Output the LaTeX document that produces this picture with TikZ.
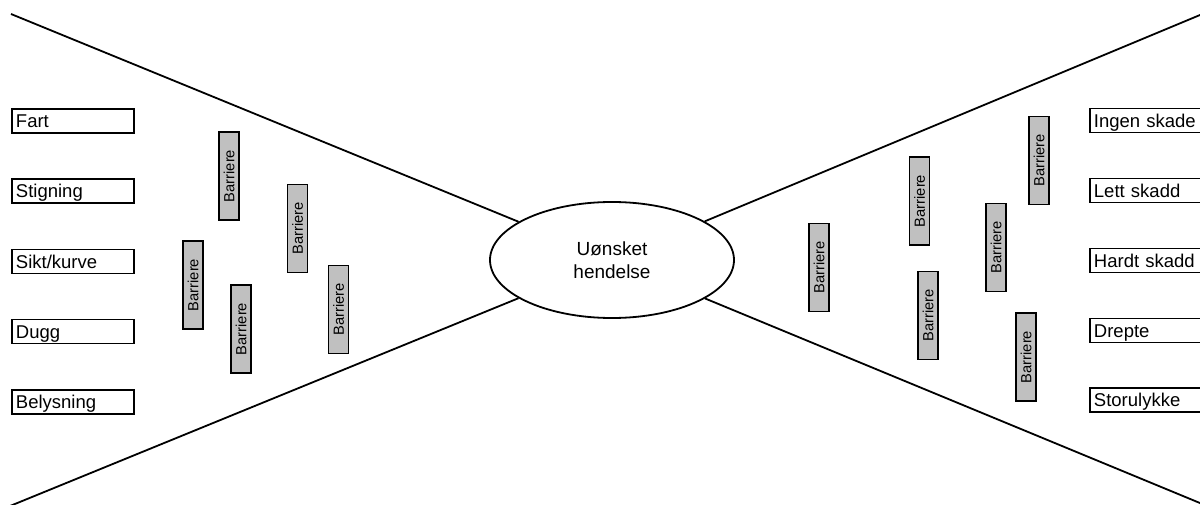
\documentclass[tikz,border=0pt]{standalone}
\usepackage{fontspec}
\setmainfont{Liberation Sans}
\usetikzlibrary{shapes.geometric}
\definecolor{barfill}{RGB}{192,192,192}
\begin{document}
\begin{tikzpicture}[x=1pt,y=-1pt,
  line width=1.8pt,
  cause/.style={draw, rectangle, anchor=west, minimum width=122pt, minimum height=24pt,
    text width=114pt, inner xsep=4pt, inner ysep=0pt, align=left,
    text height=13.3pt, text depth=0pt, font=\fontsize{18.5}{22}\selectfont, line width=1.9pt},
  barrier/.style={draw, rectangle, fill=barfill, rotate=90, minimum width=88pt, minimum height=20pt,
    inner sep=0pt, font=\fontsize{14.7}{17}\selectfont, line width=1.6pt},
  event/.style={draw, ellipse, minimum width=244pt, minimum height=116pt, inner sep=0pt,
    align=center, font=\fontsize{19}{23}\selectfont, line width=1.8pt},
  wing/.style={line width=1.8pt}]
\useasboundingbox (0,0) rectangle (1200,505);
\clip (0,0) rectangle (1200,505);
% central event
\node[event] (ev) at (612,260) {Uønsket\\hendelse};
% wing lines
\coordinate (tl) at (11,14);
\coordinate (bl) at (10,506);
\coordinate (tr) at (1212,10);
\coordinate (br) at (1212,508);
\draw[wing] (tl) -- (ev);
\draw[wing] (bl) -- (ev);
\draw[wing] (tr) -- (ev);
\draw[wing] (br) -- (ev);
% causes
\node[cause] (c1) at (11,121) {Fart};
\node[cause] (c2) at (11,191) {Stigning};
\node[cause] (c3) at (11,261.5) {Sikt/kurve};
\node[cause] (c4) at (11,331.5) {Dugg};
\node[cause] (c5) at (11,402) {Belysning};
% consequences
\node[cause] (k1) at (1089,120.5) {Ingen skade};
\node[cause] (k2) at (1089,190.5) {Lett skadd};
\node[cause] (k3) at (1089,260.5) {Hardt skadd};
\node[cause] (k4) at (1089,330.5) {Drepte};
\node[cause] (k5) at (1089,400) {Storulykke};
% left barriers
\node[barrier] (b1) at (229,176) {Barriere};
\node[barrier] (b2) at (297.5,228.5) {Barriere};
\node[barrier] (b3) at (193,285) {Barriere};
\node[barrier] (b4) at (241,329) {Barriere};
\node[barrier] (b5) at (338.5,309.5) {Barriere};
% right barriers
\node[barrier] (r1) at (819,267.5) {Barriere};
\node[barrier] (r2) at (919.5,201) {Barriere};
\node[barrier] (r3) at (928,315.5) {Barriere};
\node[barrier] (r4) at (996,247.5) {Barriere};
\node[barrier] (r5) at (1039,160.5) {Barriere};
\node[barrier] (r6) at (1026,357) {Barriere};
\end{tikzpicture}
\end{document}
